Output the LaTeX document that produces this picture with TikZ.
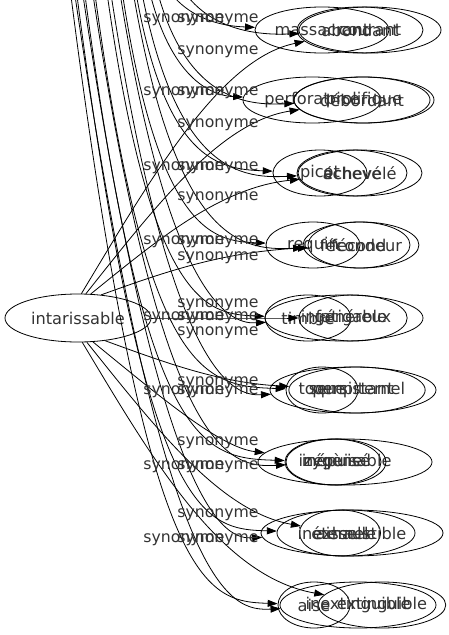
\documentclass[tikz,border=0pt]{standalone}
\usepackage{fontspec}
\setmainfont{DejaVu Sans}
\usetikzlibrary{shapes.geometric,arrows.meta,calc}
\begin{document}
\begin{tikzpicture}[x=1pt,y=-1pt,
  word/.style={ellipse,draw,line width=0.8pt,inner sep=0pt,minimum height=46pt,text=black!80,font=\fontsize{16.2}{19}\selectfont},
  lbl/.style={inner sep=0pt,text=black!80,font=\fontsize{15.7}{18}\selectfont},
  edge/.style={line width=0.8pt,-{Triangle[length=10pt,width=7pt]}}]
\useasboundingbox (0,0) rectangle (449,635);
\clip (0,0) rectangle (449,635);
% central node
\node[word,minimum width=146pt,minimum height=48pt] (int) at (78,318) {intarissable};
% row nodes
\node[word,minimum width=134pt] (a1) at (322,30) {massacrant};
\node[word,minimum width=126pt] (b1) at (360,30) {abondant};
\node[word,minimum width=142pt] (c1) at (370,30) {courant};
\node[word,minimum width=138pt] (a2) at (312,100) {perforatrice};
\node[word,minimum width=136pt] (b2) at (362,100) {débordant};
\node[word,minimum width=140pt] (c2) at (364,100) {prolifique};
\node[word,minimum width=94pt] (a3) at (320,173) {picot};
\node[word,minimum width=124pt] (b3) at (360,173) {échevelé};
\node[word,minimum width=110pt] (c3) at (352,173) {achevé};
\node[word,minimum width=94pt] (a4) at (313,245) {requin};
\node[word,minimum width=102pt] (b4) at (359,245) {fécond};
\node[word,minimum width=106pt] (c4) at (361,245) {fécondeur};
\node[word,minimum width=86pt] (a5) at (308,318) {timbre};
\node[word,minimum width=108pt] (b5) at (353,318) {généreux};
\node[word,minimum width=158pt] (c5) at (344,318) {infatigable};
\node[word,minimum width=72pt] (a6) at (322,390) {toque};
\node[word,minimum width=120pt] (b6) at (357,390) {sempiternel};
\node[word,minimum width=166pt] (c6) at (353,390) {persistant};
\node[word,minimum width=96pt] (a7) at (333,462) {zygène};
\node[word,minimum width=174pt] (b7) at (345,462) {inépuisable};
\node[word,minimum width=100pt] (c7) at (336,462) {inépuisé};
\node[word,minimum width=138pt] (a8) at (346,533) {aisselle};
\node[word,minimum width=60pt] (b8) at (340,533) {éternel};
\node[word,minimum width=182pt] (c8) at (352,533) {inexhaustible};
\node[word,minimum width=72pt] (a9) at (314,605) {aise};
\node[word,minimum width=120pt] (b9) at (382,605) {extinguible};
\node[word,minimum width=156pt] (c9) at (358,605) {inextinguible};
% edges
\foreach \r/\Y/\xa/\xb/\ang in {1/30/150/165/82,2/100/140/147/72,3/173/128/133/62,4/245/115/125/45,5/318/100/112/0,6/390/88/103/-40,7/462/78/85/-58,8/533/70/75/-70,9/605/64/67/-80}{
  \coordinate (ta\r) at (\xa,-60);
  \coordinate (tb\r) at (\xb,-60);
  \draw[edge] (ta\r) .. controls ({\xa+0.12*(\Y+60)},{\Y-12}) and ({\xa+0.12*(\Y+60)+60},{\Y-4}) .. (a\r);
  \draw[edge] (tb\r) .. controls ({\xb+0.14*(\Y+60)},{\Y-4}) and ({\xb+0.14*(\Y+60)+70},{\Y+6}) .. (c\r);
  \draw[edge] (int.\ang) .. controls ($(int.\ang)!0.45!(240,\Y)$) and (220,{\Y+(318-\Y)*0.1}) .. (b\r);
}
% labels
\foreach \y [count=\i] in {20,93,168,242,318,392,467,540}
  \node[lbl] (L\i) at (184,\y) {synonyme};
\foreach \y [count=\i] in {20,52,93,125,168,198,242,258,305,318,333,383,392,443,467,515,540}
  \node[lbl] (R\i) at (218,\y) {synonyme};
\end{tikzpicture}
\end{document}
